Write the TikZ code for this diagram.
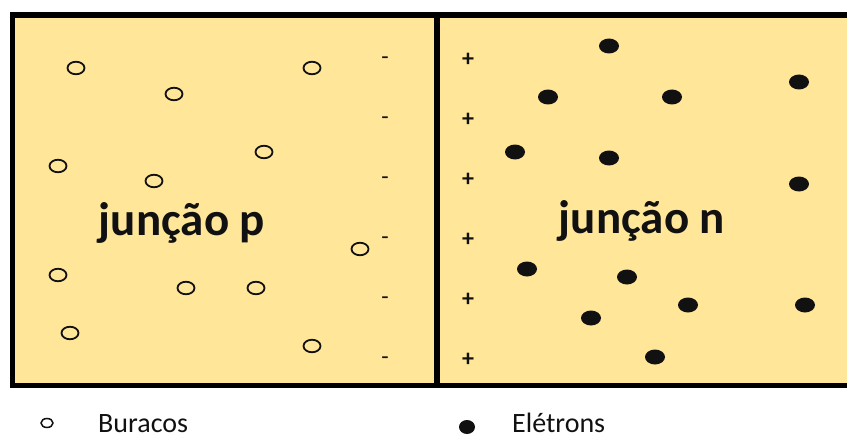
\documentclass[tikz,border=0pt]{standalone}
\usepackage{fontspec}
\setmainfont{Carlito}
\usetikzlibrary{shapes.geometric}
\definecolor{pfill}{HTML}{FFE699}
\definecolor{ink}{HTML}{111111}
\tikzset{
  hole/.style={ellipse, draw=ink, line width=1.8pt, minimum width=17pt, minimum height=12.5pt, inner sep=0pt},
  electron/.style={ellipse, fill=ink, minimum width=20pt, minimum height=15pt, inner sep=0pt},
  minussign/.style={font=\fontsize{24}{26}\selectfont, text=ink, inner sep=0pt},
  plussign/.style={font=\bfseries\fontsize{24}{26}\selectfont, text=ink, inner sep=0pt},
  regionlabel/.style={font=\bfseries\fontsize{47}{50}\selectfont, text=ink, anchor=base, inner sep=0pt},
  legendtext/.style={font=\fontsize{28}{30}\selectfont, text=ink, anchor=base west, inner sep=0pt},
  frame/.style={line width=5.2pt, draw=black}
}
\begin{document}
\begin{tikzpicture}[x=1pt, y=-1pt]
  \useasboundingbox (0,0) rectangle (847,436);
  \begin{scope}
    \clip (0,0) rectangle (847,436);
    % crystal block with its p and n halves
    \fill[pfill] (12.8,15) rectangle (860,385.5);
    \draw[frame] (12.8,15) rectangle (860,385.5);
    \coordinate (divtop) at (437,15);
    \coordinate (divbot) at (437,385.5);
    \draw[frame] (divtop) -- (divbot);
  \end{scope}

  % holes in the p side
  \node[hole] (h1)  at (76,68) {};
  \node[hole] (h2)  at (174,94) {};
  \node[hole] (h3)  at (312,68) {};
  \node[hole] (h4)  at (58,166) {};
  \node[hole] (h5)  at (154,181) {};
  \node[hole] (h6)  at (264,152) {};
  \node[hole] (h7)  at (360,249) {};
  \node[hole] (h8)  at (58,275) {};
  \node[hole] (h9)  at (186,288) {};
  \node[hole] (h10) at (256,288) {};
  \node[hole] (h11) at (70,333) {};
  \node[hole] (h12) at (312,346) {};

  % electrons in the n side
  \node[electron] (e1)  at (609,46) {};
  \node[electron] (e2)  at (548,97) {};
  \node[electron] (e3)  at (672,97) {};
  \node[electron] (e4)  at (799,82) {};
  \node[electron] (e5)  at (515,152) {};
  \node[electron] (e6)  at (609,158) {};
  \node[electron] (e7)  at (799,184) {};
  \node[electron] (e8)  at (527,269) {};
  \node[electron] (e9)  at (627,277) {};
  \node[electron] (e10) at (688,305) {};
  \node[electron] (e11) at (805,305) {};
  \node[electron] (e12) at (591,318) {};
  \node[electron] (e13) at (655,357) {};

  % fixed charges along the junction
  \foreach \k in {0,...,5} {
    \node[minussign] (m\k) at (385,{61+60*\k}) {-};
    \node[plussign]  (p\k) at (468,{60+60*\k}) {+};
  }

  % region names
  \node[regionlabel] (lp) at (182,235) {junção p};
  \node[regionlabel] (ln) at (642,233) {junção n};

  % legend
  \node[hole, minimum width=12pt, minimum height=9pt, line width=1.5pt] (lh) at (47,423) {};
  \node[legendtext] (lht) at (98,432) {Buracos};
  \node[electron, minimum width=16pt, minimum height=14pt] (le) at (467,427) {};
  \node[legendtext] (let) at (512,432) {Elétrons};
\end{tikzpicture}
\end{document}
